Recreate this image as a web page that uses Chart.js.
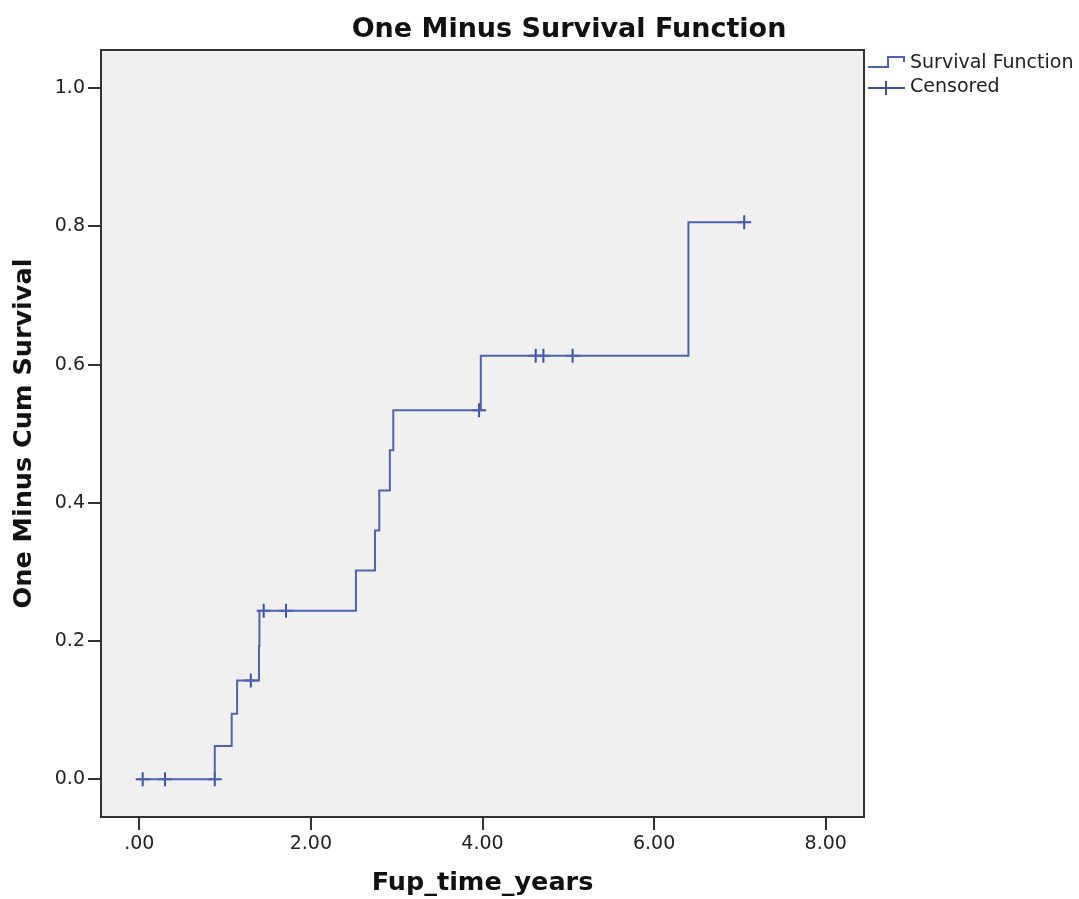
<!DOCTYPE html>
<html>
<head>
<meta charset="utf-8">
<title>One Minus Survival Function</title>
<script src="https://cdn.jsdelivr.net/npm/chart.js@4/dist/chart.umd.min.js"></script>
<style>
  html, body { margin: 0; padding: 0; background: #fff; }
  canvas { display: block; }
</style>
</head>
<body>
<canvas id="km" width="1079" height="899"></canvas>
<script>
// step points of the one-minus-survival curve (time in years, 1 - S(t))
const eventTimes   = [0, 0.88, 1.077, 1.14, 1.395, 1.40, 2.525, 2.747, 2.797, 2.92, 2.96, 3.98, 6.40, 7.05];
const oneMinusSurv = [0, 0.048, 0.095, 0.143, 0.193, 0.244, 0.302, 0.360, 0.418, 0.476, 0.534, 0.613, 0.806, 0.806];

// censored observations
const censorTimes  = [0.04, 0.30, 0.88, 1.30, 1.45, 1.71, 3.96, 4.62, 4.71, 5.05, 7.05];
const censorValues = [0, 0, 0, 0.143, 0.244, 0.244, 0.534, 0.613, 0.613, 0.613, 0.806];

const xTicks = [0, 2, 4, 6, 8];
const yTicks = [0, 0.2, 0.4, 0.6, 0.8, 1.0];

const lineColor = '#4c64b6';
const markColor = '#3b52aa';
const textColor = '#222';
const font = 'DejaVu Sans';

const curve = eventTimes.map((t, i) => ({ x: t, y: oneMinusSurv[i] }));
const censored = censorTimes.map((t, i) => ({ x: t, y: censorValues[i] }));

const frame = {
    id: 'frame',
    beforeDraw(chart) {
        const { ctx, chartArea: a } = chart;
        ctx.save();
        ctx.fillStyle = '#fff';
        ctx.fillRect(0, 0, chart.width, chart.height);
        ctx.fillStyle = '#f0f0f0';
        ctx.fillRect(a.left, a.top, a.right - a.left, a.bottom - a.top);
        ctx.restore();
    },
    afterDraw(chart) {
        const { ctx, chartArea: a } = chart;
        ctx.save();
        ctx.strokeStyle = '#333';
        ctx.lineWidth = 2;
        ctx.strokeRect(a.left, a.top, a.right - a.left, a.bottom - a.top);

        // title
        ctx.fillStyle = '#111';
        ctx.font = 'bold 27px "' + font + '"';
        ctx.textAlign = 'center';
        ctx.textBaseline = 'alphabetic';
        ctx.fillText('One Minus Survival Function', 569, 37);

        // legend
        const lx = a.right + 4;
        ctx.strokeStyle = lineColor;
        ctx.lineWidth = 2;
        ctx.beginPath();
        ctx.moveTo(lx, 67);
        ctx.lineTo(lx + 20, 67);
        ctx.lineTo(lx + 20, 57);
        ctx.lineTo(lx + 36, 57);
        ctx.lineTo(lx + 36, 62);
        ctx.stroke();
        ctx.strokeStyle = markColor;
        ctx.beginPath();
        ctx.moveTo(lx, 88);
        ctx.lineTo(lx + 37, 88);
        ctx.moveTo(lx + 18, 81);
        ctx.lineTo(lx + 18, 95);
        ctx.stroke();
        ctx.fillStyle = textColor;
        ctx.font = '19px "' + font + '"';
        ctx.textAlign = 'left';
        ctx.textBaseline = 'middle';
        ctx.fillText('Survival Function', lx + 42, 63);
        ctx.fillText('Censored', lx + 42, 87);
        ctx.restore();
    }
};

new Chart(document.getElementById('km'), {
    type: 'line',
    data: {
        datasets: [
            {
                label: 'Survival Function',
                data: curve,
                stepped: 'before',
                borderColor: lineColor,
                borderWidth: 2,
                pointRadius: 0,
                fill: false
            },
            {
                label: 'Censored',
                type: 'scatter',
                data: censored,
                showLine: false,
                pointStyle: 'cross',
                pointRadius: 7,
                pointBorderWidth: 2,
                borderColor: markColor,
                pointBorderColor: markColor
            }
        ]
    },
    options: {
        responsive: false,
        animation: false,
        layout: { padding: { top: 50, right: 215, left: 0, bottom: 0 } },
        plugins: {
            legend: { display: false },
            title: { display: false },
            tooltip: { enabled: false }
        },
        scales: {
            x: {
                type: 'linear',
                min: -0.446,
                max: 8.446,
                afterBuildTicks: s => { s.ticks = xTicks.map(v => ({ value: v })); },
                afterFit: s => { s.height = 82; },
                ticks: {
                    color: textColor,
                    font: { family: font, size: 19 },
                    padding: 3,
                    maxRotation: 0,
                    callback: v => v === 0 ? '.00' : v.toFixed(2)
                },
                grid: { drawOnChartArea: false, drawTicks: true, tickLength: 13, color: '#333', lineWidth: 2 },
                border: { display: false },
                title: {
                    display: true,
                    text: 'Fup_time_years',
                    color: '#111',
                    font: { family: font, size: 25.5, weight: 'bold' },
                    padding: { top: 0, bottom: 0 }
                }
            },
            y: {
                type: 'linear',
                min: -0.0546,
                max: 1.0554,
                afterBuildTicks: s => { s.ticks = yTicks.map(v => ({ value: v })); },
                afterFit: s => { s.width = 101; },
                ticks: {
                    color: textColor,
                    font: { family: font, size: 19 },
                    padding: 3,
                    callback: v => v.toFixed(1)
                },
                grid: { drawOnChartArea: false, drawTicks: true, tickLength: 13, color: '#333', lineWidth: 2 },
                border: { display: false },
                title: {
                    display: true,
                    text: 'One Minus Cum Survival',
                    color: '#111',
                    font: { family: font, size: 25.5, weight: 'bold' },
                    padding: { top: 9, bottom: 0 }
                }
            }
        }
    },
    plugins: [frame]
});
</script>
</body>
</html>
